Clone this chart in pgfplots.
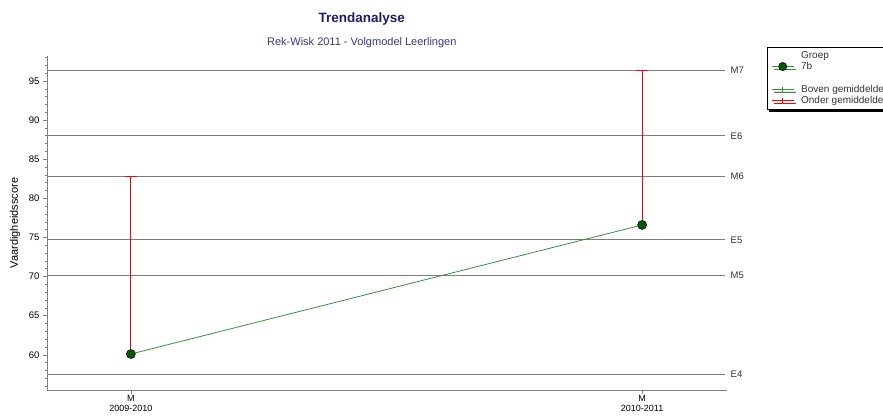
\documentclass[border=0pt]{standalone}
\usepackage{fontspec}
\setmainfont{Liberation Sans}
\usepackage{pgfplots}
\pgfplotsset{compat=1.18}
\usetikzlibrary{shadows}
\definecolor{titlec}{RGB}{30,30,100}
\definecolor{subc}{RGB}{55,55,130}
\definecolor{lgreen}{RGB}{60,140,60}
\definecolor{dgreen}{RGB}{10,85,10}
\definecolor{refgray}{RGB}{125,125,125}
\begin{document}
\begin{tikzpicture}
\begin{axis}[
  scale only axis,
  width=680pt, height=334pt,
  xmin=-0.164, xmax=1.166,
  ymin=55.5, ymax=98.2,
  axis x line=bottom, axis y line=left,
  axis line style={-, draw=gray, line width=0.9pt},
  xtick={0,1},
  xticklabels={M\\2009-2010, M\\2010-2011},
  xticklabel style={align=center, font=\fontsize{9}{10.5}\selectfont, inner sep=1pt},
  ytick={60,65,...,95},
  minor ytick={56,...,98},
  yticklabel style={font=\fontsize{9.5}{11}\selectfont},
  /pgf/number format/assume math mode=true,
  tick align=outside,
  major tick length=4pt, minor tick length=2.5pt,
  tick style={gray, line width=0.6pt},
  ylabel={Vaardigheidsscore},
  ylabel style={at={(axis description cs:-0.047,0.5)}, anchor=center, font=\fontsize{11}{13}\selectfont},
  clip=false,
  legend style={at={(axis description cs:1.059,1.027)}, anchor=north west,
    draw=black, fill=white, font=\fontsize{10}{11}\selectfont,
    drop shadow={shadow xshift=2pt, shadow yshift=-2.5pt, fill=black, opacity=1},
    row sep=-1.5pt, column sep=5pt, inner xsep=4pt, inner ysep=2pt, text=black!80},
  legend cell align=left,
  legend image code/.code={\draw[mark repeat=2, mark phase=2, #1] plot coordinates {(0pt,0pt) (11pt,0pt) (22pt,0pt)};},
]
% reference lines
\addplot[refgray, line width=0.8pt, forget plot] coordinates {(-0.164,96.4) (1.162,96.4)} node[pos=1, right, xshift=2pt, text=black!80, font=\fontsize{9.5}{11}\selectfont] {M7};
\addplot[refgray, line width=0.8pt, forget plot] coordinates {(-0.164,88.0) (1.162,88.0)} node[pos=1, right, xshift=2pt, text=black!80, font=\fontsize{9.5}{11}\selectfont] {E6};
\addplot[refgray, line width=0.8pt, forget plot] coordinates {(-0.164,82.8) (1.162,82.8)} node[pos=1, right, xshift=2pt, text=black!80, font=\fontsize{9.5}{11}\selectfont] {M6};
\addplot[refgray, line width=0.8pt, forget plot] coordinates {(-0.164,74.7) (1.162,74.7)} node[pos=1, right, xshift=2pt, text=black!80, font=\fontsize{9.5}{11}\selectfont] {E5};
\addplot[refgray, line width=0.8pt, forget plot] coordinates {(-0.164,70.2) (1.162,70.2)} node[pos=1, right, xshift=2pt, text=black!80, font=\fontsize{9.5}{11}\selectfont] {M5};
\addplot[refgray, line width=0.8pt, forget plot] coordinates {(-0.164,57.5) (1.162,57.5)} node[pos=1, right, xshift=2pt, text=black!80, font=\fontsize{9.5}{11}\selectfont] {E4};
% error bars (red)
\addplot[draw=none, mark=none, forget plot,
  error bars/.cd, y dir=plus, y explicit,
  error bar style={red, line width=0.9pt},
  error mark options={red, mark size=6pt, line width=0.9pt, rotate=90}]
  coordinates {(0,60.1) +- (0,22.7) (1,76.6) +- (0,19.8)};
% trend line
\addplot[lgreen, line width=0.8pt, mark=*, mark size=4.5pt,
  mark options={fill=dgreen, draw=black!70!dgreen, line width=0.6pt}, forget plot]
  coordinates {(0,60.1) (1,76.6)};
% titles
\node[font=\fontsize{13.5}{15}\selectfont\bfseries, text=titlec] at (axis description cs:0.463,1.111) {Trendanalyse};
\node[font=\fontsize{11}{13}\selectfont, text=subc] at (axis description cs:0.463,1.039) {Rek-Wisk 2011 - Volgmodel Leerlingen};
% legend
\addlegendimage{empty legend}
\addlegendentry{Groep}
\addlegendimage{lgreen, line width=0.8pt, mark=*, mark size=4pt, mark options={fill=dgreen, draw=black!70!dgreen}}
\addlegendentry{7b}
\addlegendimage{empty legend}
\addlegendentry{\strut}
\addlegendimage{lgreen, line width=0.6pt, mark=|, mark size=2.5pt}
\addlegendentry{Boven gemiddelde}
\addlegendimage{red, line width=0.6pt, mark=|, mark size=2.5pt}
\addlegendentry{Onder gemiddelde}
\end{axis}
\pgfresetboundingbox
\path[use as bounding box] (-47pt,-28pt) rectangle (836pt,390pt);
\end{tikzpicture}
\end{document}
